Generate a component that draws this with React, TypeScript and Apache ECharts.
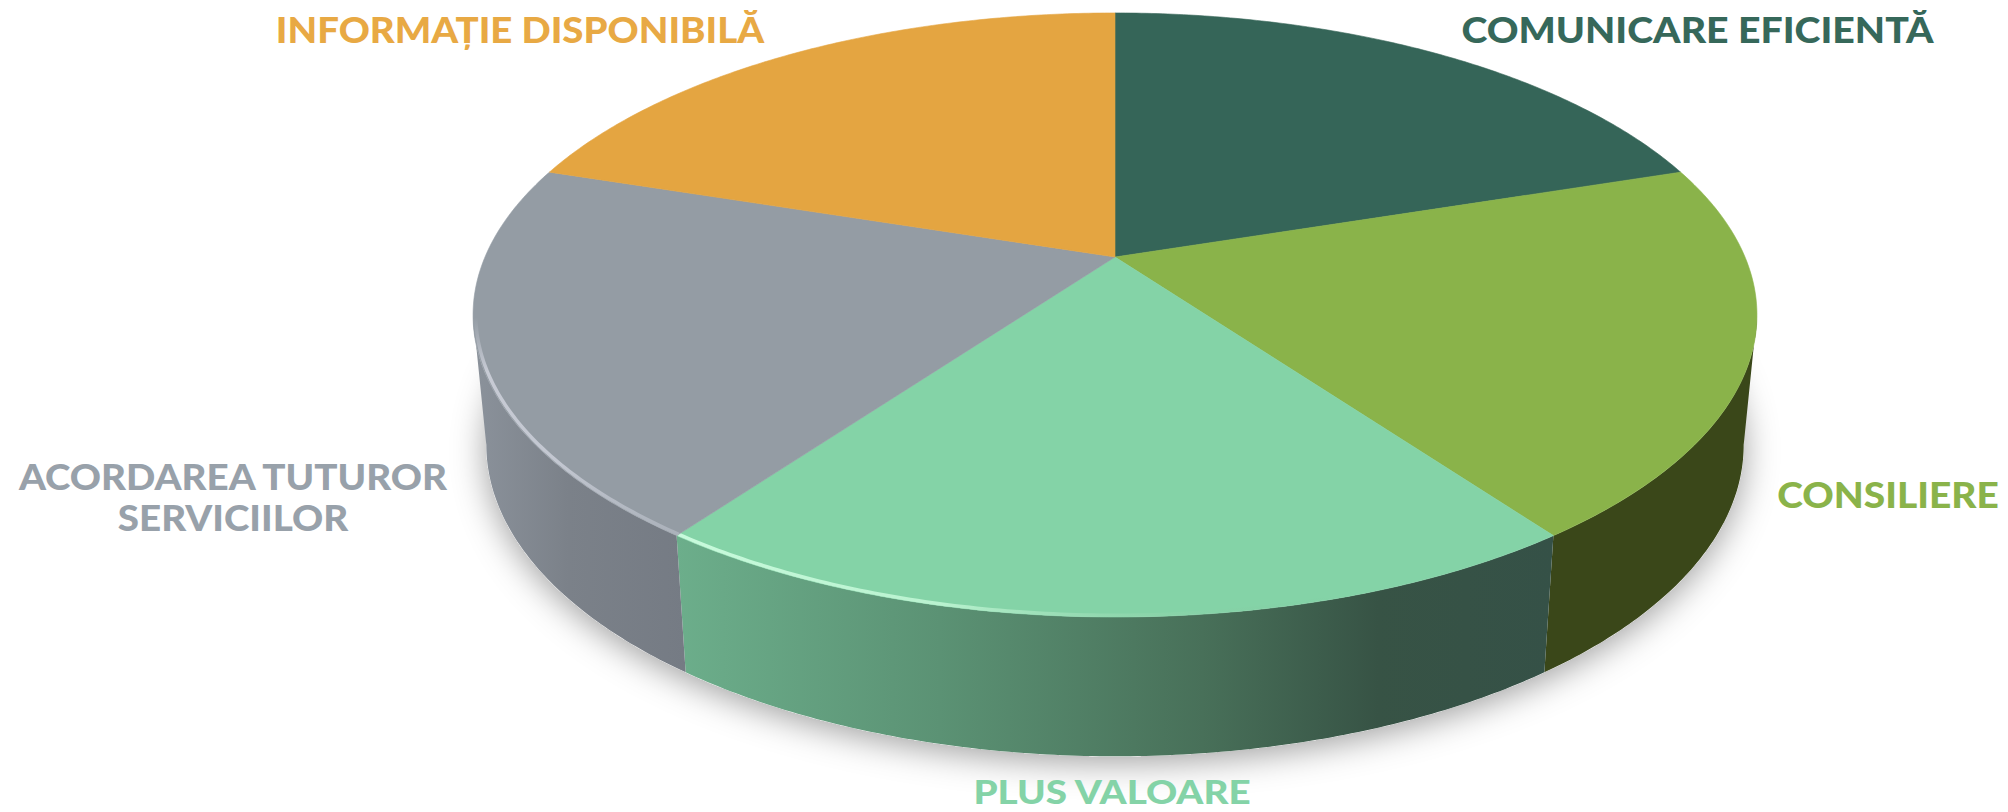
import React, { useEffect, useRef } from "react";
import * as echarts from "echarts";

const categories = [
  "COMUNICARE EFICIENTĂ",
  "CONSILIERE",
  "PLUS VALOARE",
  "ACORDAREA TUTUROR\nSERVICIILOR",
  "INFORMAȚIE DISPONIBILĂ",
];
const shares = [20, 20, 20, 20, 20];

const topColors = ["#356558", "#8ab34a", "#84d3a7", "#949ca4", "#e4a541"];
const labelColors = ["#36685a", "#8ab34a", "#84d3a7", "#98a1aa", "#e8a944"];

const wallStops: [number, string][][] = [
  [[0, "#223f37"], [1, "#223f37"]],
  [[0, "#3a4719"], [1, "#3a4719"]],
  [[0, "#6cae8b"], [0.3, "#5b9274"], [0.6, "#487059"], [0.8, "#375345"], [1, "#355147"]],
  [[0, "#8b929b"], [0.45, "#7b8189"], [1, "#757b84"]],
  [[0, "#8c6526"], [1, "#8c6526"]],
];

// Label anchor: centre x, middle y, font size, horizontal stretch, line height
const labelBoxes = [
  { x: 1697.5, y: 29, size: 36, sx: 1.09, lh: 36 },
  { x: 1888, y: 494, size: 36, sx: 1.08, lh: 36 },
  { x: 1112, y: 792, size: 32, sx: 1.206, lh: 28 },
  { x: 233, y: 496, size: 36, sx: 1.07, lh: 41 },
  { x: 520, y: 29, size: 36, sx: 1.067, lh: 36 },
];

const total = shares.reduce((s, v) => s + v, 0);
const startShare = shares.map((_, i) => shares.slice(0, i).reduce((s, v) => s + v, 0));

const CX = 1115;
const K = 0.192;
const TOP = { a: 630, b: 290.9, y: 257 };
const BOTTOM = { a: 617, b: 300, y: 385 };
// Angle (clockwise from the back of the disc) at which the rim reaches its outermost x
const SILHOUETTE = Math.acos(-K);

type Ring = { a: number; b: number; y: number };
function project(r: Ring, t: number, radius = 1): number[] {
  const X = Math.sin(t) * radius;
  const Y = Math.cos(t) * radius;
  const w = 1 + K * Y;
  return [CX + (r.a * X) / w, r.y - (r.b * Y) / w];
}
function arc(r: Ring, t0: number, t1: number, radius = 1): number[][] {
  const n = Math.max(8, Math.ceil(Math.abs(t1 - t0) / 0.01));
  const pts: number[][] = [];
  for (let i = 0; i <= n; i++) pts.push(project(r, t0 + ((t1 - t0) * i) / n, radius));
  return pts;
}
function sliceAngles(i: number, value: number): [number, number] {
  const t0 = (startShare[i] / total) * Math.PI * 2;
  return [t0, t0 + (value / total) * Math.PI * 2];
}

const grad = (x0: number, y0: number, x1: number, y1: number, stops: [number, string][]) =>
  new echarts.graphic.LinearGradient(
    x0,
    y0,
    x1,
    y1,
    stops.map(([offset, color]) => ({ offset, color }))
  );

const renderShadow = () => ({
  type: "polygon",
  shape: { points: arc(BOTTOM, 0, Math.PI * 2) },
  style: {
    fill: "#ffffff",
    shadowBlur: 34,
    shadowColor: "rgba(0,0,0,0.38)",
    shadowOffsetX: 0,
    shadowOffsetY: 6,
  },
});

const renderWall = (params: any, api: any) => {
  const i = params.dataIndex;
  const [t0, t1] = sliceAngles(i, api.value(0));
  const a = Math.max(t0, SILHOUETTE);
  const b = Math.min(t1, Math.PI * 2 - SILHOUETTE);
  if (b <= a) return { type: "group", children: [] };
  const pts = [...arc(TOP, a, b), ...arc(BOTTOM, b, a)];
  return {
    type: "polygon",
    shape: { points: pts },
    style: { fill: grad(0, 0, 1, 0, wallStops[i]) },
  };
};

const edgeStyles: Record<number, any> = {
  2: {
    dir: [0, 0, 1, 0],
    stops: [
      [0, "rgba(200,250,220,1)"],
      [0.3, "rgba(195,248,215,0.85)"],
      [0.55, "rgba(150,215,175,0.35)"],
      [0.75, "rgba(120,190,150,0)"],
      [1, "rgba(50,80,70,0)"],
    ],
    w: 3.5,
  },
  3: {
    dir: [0, 1, 0, 0],
    stops: [
      [0, "rgba(190,195,205,0.55)"],
      [0.2, "rgba(200,204,214,0.9)"],
      [0.45, "rgba(205,208,218,0.9)"],
      [0.6, "rgba(200,204,214,0)"],
      [1, "rgba(200,204,214,0)"],
    ],
    w: 3.5,
  },
};

const renderTop = (params: any, api: any) => {
  const i = params.dataIndex;
  const [t0, t1] = sliceAngles(i, api.value(0));
  const center = project(TOP, 0, 0);
  const children: any[] = [
    {
      type: "polygon",
      shape: { points: [center, ...arc(TOP, t0, t1)] },
      style: { fill: topColors[i], stroke: topColors[i], lineWidth: 0.6 },
    },
  ];
  const e = edgeStyles[i];
  if (e) {
    children.push({
      type: "polyline",
      shape: { points: arc(TOP, t0, t1, 0.996) },
      style: {
        fill: "none",
        lineWidth: e.w,
        stroke: grad(e.dir[0], e.dir[1], e.dir[2], e.dir[3], e.stops),
      },
    });
  }
  const box = labelBoxes[i];
  children.push({
    type: "text",
    x: box.x,
    y: box.y,
    scaleX: box.sx,
    style: {
      text: categories[i],
      x: 0,
      y: 0,
      fill: labelColors[i],
      font: `900 ${box.size}px Lato`,
      align: "center",
      verticalAlign: "middle",
      lineHeight: box.lh,
    },
  });
  return { type: "group", children };
};

export default function App() {
  const ref = useRef<HTMLDivElement>(null);
  useEffect(() => {
    const chart = echarts.init(ref.current!, undefined, { renderer: "svg" });
    chart.setOption({
      animation: false,
      backgroundColor: "#ffffff",
      series: [
        { type: "custom", coordinateSystem: "none", silent: true, data: [total], renderItem: renderShadow },
        { type: "custom", coordinateSystem: "none", silent: true, data: shares, renderItem: renderWall },
        { type: "custom", coordinateSystem: "none", silent: true, data: shares, renderItem: renderTop },
      ],
    });
    return () => chart.dispose();
  }, []);
  return <div ref={ref} style={{ position: "fixed", left: 0, top: 0, width: 2008, height: 812 }} />;
}
